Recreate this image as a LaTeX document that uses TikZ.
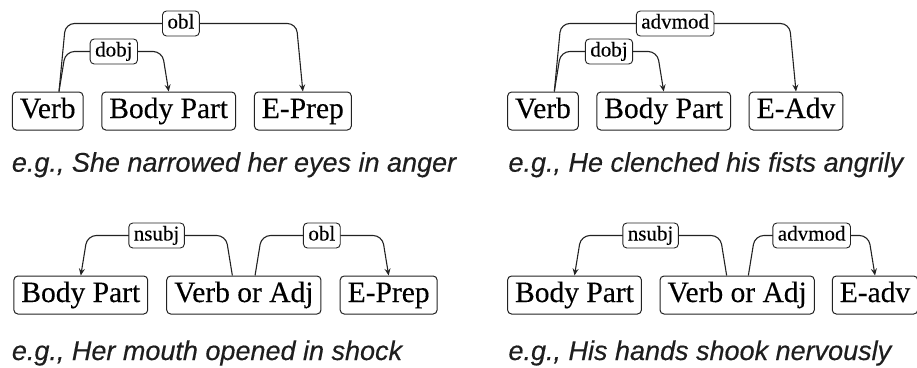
\documentclass[tikz,border=0pt]{standalone}
\usepackage{fontspec}
\setmainfont{Liberation Serif}[FakeBold=0.25]
\newfontfamily\capfont{Liberation Sans}[FakeBold=0.35]
\usetikzlibrary{arrows.meta,calc}

\definecolor{ink}{HTML}{222222}
\definecolor{captext}{HTML}{1E1E1E}

\tikzset{
  wordbox/.style={draw=ink, line width=1pt, rounded corners=4pt,
    font=\fontsize{29.5}{29.5}\selectfont, inner xsep=7.5pt, inner ysep=5.5pt,
    text height=20.5pt, text depth=6.5pt},
  deplabel/.style={draw=ink, line width=0.9pt, fill=white, rounded corners=4pt,
    font=\fontsize{21}{21}\selectfont, inner xsep=5pt, inner ysep=3pt,
    text height=14.5pt, text depth=4.5pt},
  dep/.style={draw=ink, line width=1.1pt, rounded corners=9pt,
    -{Stealth[length=7pt,width=6pt,inset=2.5pt]}},
  caption/.style={anchor=base west, text=captext, inner sep=0pt,
    font=\capfont\itshape\fontsize{27}{27}\selectfont}
}

% arc from #1 (shifted by #2) to #3, raised #4 above the boxes, slanted by #5
\newcommand\deparc[6]{%
  \draw[dep] ([xshift=#2pt]#1.north) -- ++(#5,-#4)
    -- node[deplabel]{#6} ($(#3.north)+(-#5,-#4)$) -- (#3.north);
}

\begin{document}
\begin{tikzpicture}[x=1pt,y=-1pt]
\useasboundingbox (0,0) rectangle (917,367);

% top left: verb, body part, prepositional phrase
\node[wordbox] (v1) at (47.7,111) {Verb};
\node[wordbox] (b1) at (168.7,111) {Body Part};
\node[wordbox] (e1) at (302.85,111) {E-Prep};
\deparc{v1}{11.3}{e1}{68}{6.5}{obl}
\deparc{v1}{11.3}{b1}{40}{6.5}{dobj}
\node[caption] (c1) at (11.7,171.7) {e.g., She narrowed her eyes in anger};

% top right: verb, body part, adverb
\node[wordbox] (v2) at (543,111) {Verb};
\node[wordbox] (b2) at (663.7,111) {Body Part};
\node[wordbox] (e2) at (796,111) {E-Adv};
\deparc{v2}{11.3}{e2}{68}{6.5}{advmod}
\deparc{v2}{11.3}{b2}{40}{6.5}{dobj}
\node[caption] (c2) at (508.3,171.7) {e.g., He clenched his fists angrily};

% bottom left: body part as subject, prepositional phrase
\node[wordbox] (b3) at (80.8,295) {Body Part};
\node[wordbox] (va3) at (243.85,295) {Verb or Adj};
\node[wordbox] (e3) at (388.65,295) {E-Prep};
\deparc{va3}{-11.5}{b3}{40}{-6.5}{nsubj}
\deparc{va3}{11.2}{e3}{40}{6.5}{obl}
\node[caption] (c3) at (11.7,360) {e.g., Her mouth opened in shock};

% bottom right: body part as subject, adverb
\node[wordbox] (b4) at (574.5,295) {Body Part};
\node[wordbox] (va4) at (737.15,295) {Verb or Adj};
\node[wordbox] (e4) at (875,295) {E-adv};
\deparc{va4}{-10.5}{b4}{40}{-6.5}{nsubj}
\deparc{va4}{11.2}{e4}{40}{6.5}{advmod}
\node[caption] (c4) at (508.3,360) {e.g., His hands shook nervously};
\end{tikzpicture}
\end{document}
